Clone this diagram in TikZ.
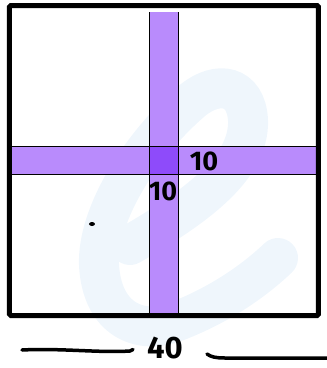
\documentclass[tikz,border=0pt]{standalone}
\usepackage{fontspec}
\setmainfont{Fira Sans}
\definecolor{strip}{HTML}{B98BFC}
\definecolor{cross}{HTML}{8E4BFA}
\definecolor{wmark}{HTML}{EFF6FC}
\tikzset{
  lbl/.style={inner sep=0pt, font=\fontsize{27}{27}\selectfont\bfseries},
  thinedge/.style={draw=black, line width=0.9pt},
  hand/.style={line width=3.5pt, line cap=round}
}
\begin{document}
\begin{tikzpicture}[x=1pt,y=-1pt]
\useasboundingbox (0,0) rectangle (327,368);
% faint watermark
\draw[wmark, line width=40pt, line cap=round]
  (130,245) .. controls (190,210) and (250,170) .. (248,120)
  .. controls (246,85) and (218,80) .. (193,100)
  .. controls (140,145) and (97,215) .. (99,265)
  .. controls (102,320) and (140,335) .. (175,322)
  .. controls (220,305) and (255,280) .. (278,258);
% strips
\fill[strip] (149,12) rectangle (178,316);
\fill[strip] (12,146) rectangle (316,174);
\fill[cross] (149,146) rectangle (178,174);
\draw[thinedge] (149,12) -- (149,316) (178,12) -- (178,316);
\draw[thinedge] (12,146) -- (316,146) (12,174) -- (316,174);
% outer square
\draw[line width=5pt, rounded corners=1.5pt] (9.5,5.5) rectangle (318.5,315.5);
% labels
\node[lbl] (r10) at (204,161) {10};
\node[lbl] (b10) at (163,191) {10};
\node[lbl, font=\fontsize{31}{31}\selectfont\bfseries] (w40) at (165,348) {40};
% dot
\fill (92,224) ellipse (3pt and 2pt);
% bottom hand lines
\draw[hand] (22,350) .. controls (60,348) and (100,353) .. (130,351) -- (133,349.5);
\draw[hand] (207,354) .. controls (211,357) and (216,358) .. (225,358) -- (327,358);
\end{tikzpicture}
\end{document}
